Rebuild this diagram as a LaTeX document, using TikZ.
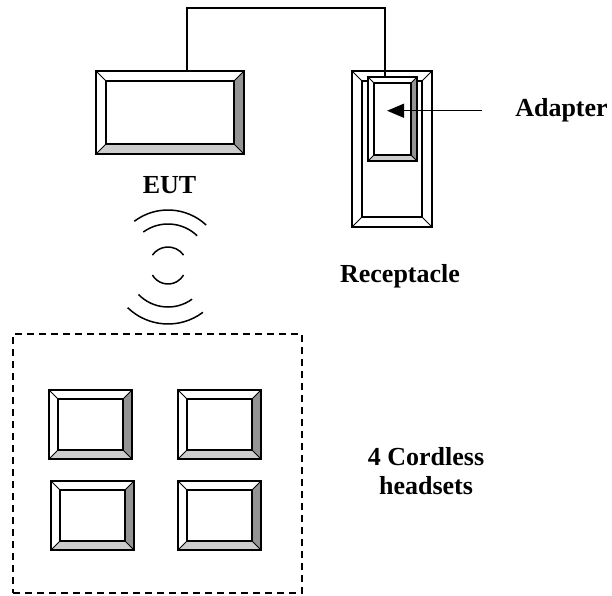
\documentclass[tikz,border=0pt]{standalone}
\usepackage{fontspec}
\setmainfont{Liberation Serif}
\usetikzlibrary{arrows.meta}

\definecolor{bevdark}{gray}{0.58}
\definecolor{bevlight}{gray}{0.80}

\tikzset{
  bevel/.style n args={3}{draw, fill=white, line width=1.6pt, inner sep=0pt,
    path picture={
      \coordinate (pp-sw) at (path picture bounding box.south west);
      \coordinate (pp-se) at (path picture bounding box.south east);
      \coordinate (pp-ne) at (path picture bounding box.north east);
      \coordinate (pp-nw) at (path picture bounding box.north west);
      \fill[#2] (pp-ne) -- (pp-se) -- ([shift={(-#1,#1)}]pp-se) -- ([shift={(-#1,-#1)}]pp-ne) -- cycle;
      \fill[#3] (pp-sw) -- (pp-se) -- ([shift={(-#1,#1)}]pp-se) -- ([shift={(#1,#1)}]pp-sw) -- cycle;
      \draw[line width=1pt] (pp-sw) -- ++(#1,#1) (pp-se) -- ++(-#1,#1)
        (pp-ne) -- ++(-#1,-#1) (pp-nw) -- ++(#1,-#1);
      \draw[line width=1.6pt] ([shift={(#1,#1)}]pp-sw) rectangle ([shift={(-#1,-#1)}]pp-ne);
    }},
  hsbox/.style={bevel={9}{bevdark}{bevlight}, minimum width=83pt, minimum height=69pt},
  lbl/.style={font=\fontsize{26}{29}\selectfont\bfseries, align=center, inner sep=0pt},
  wire/.style={line width=1.5pt},
}

\begin{document}
\begin{tikzpicture}[x=1pt,y=1pt]
    \useasboundingbox (0,0) rectangle (612,595);
    % EUT, receptacle and adapter
    \node[bevel={10}{bevdark}{bevlight}, minimum width=148pt, minimum height=83pt] (eut) at (170,482.5) {};
    \node[bevel={10}{white}{white}, minimum width=80pt, minimum height=156pt] (recept) at (392,446) {};
    \node[bevel={6}{bevdark}{bevlight}, minimum width=49pt, minimum height=84pt] (adapter) at (392.5,476) {};
    \draw[wire] ([xshift=17pt]eut.north) -- ++(0,62) -| ([xshift=-7.5pt]adapter.north);

    \node[lbl, anchor=base] (eutlbl) at (169.5,401) {EUT};
    \node[lbl, anchor=base] (reclbl) at (400,313) {Receptacle};
    \node[lbl, anchor=base] (adlbl) at (561.5,478) {Adapter};
    \coordinate (adtip) at ([xshift=-128pt]adlbl.west);
    \draw[wire, -{Triangle[length=17pt,width=14pt]}] ([xshift=-33pt]adlbl.west) -- (adtip);

    % radio waves
    \coordinate (wave) at (168,329);
    \foreach \r/\a/\b in {56/47/127, 42/46/126, 19/35/145, 18/210/330, 41/224/306, 58/226/307}
        \draw[wire] ([shift={(\a:\r)}]wave) arc[start angle=\a, end angle=\b, radius=\r];

    % headsets
    \node[draw, dashed, dash pattern=on 7pt off 5pt, line width=1.5pt, minimum width=289pt, minimum height=259pt] (group) at (157.5,131.5) {};
    \node[hsbox] (hs1) at (90.5,170.5) {};
    \node[hsbox] (hs2) at (219.5,170.5) {};
    \node[hsbox] (hs3) at (92.5,79.5) {};
    \node[hsbox] (hs4) at (219.5,79.5) {};
    \node[lbl] (hslbl) at (426,124) {4 Cordless\\headsets};
\end{tikzpicture}
\end{document}
